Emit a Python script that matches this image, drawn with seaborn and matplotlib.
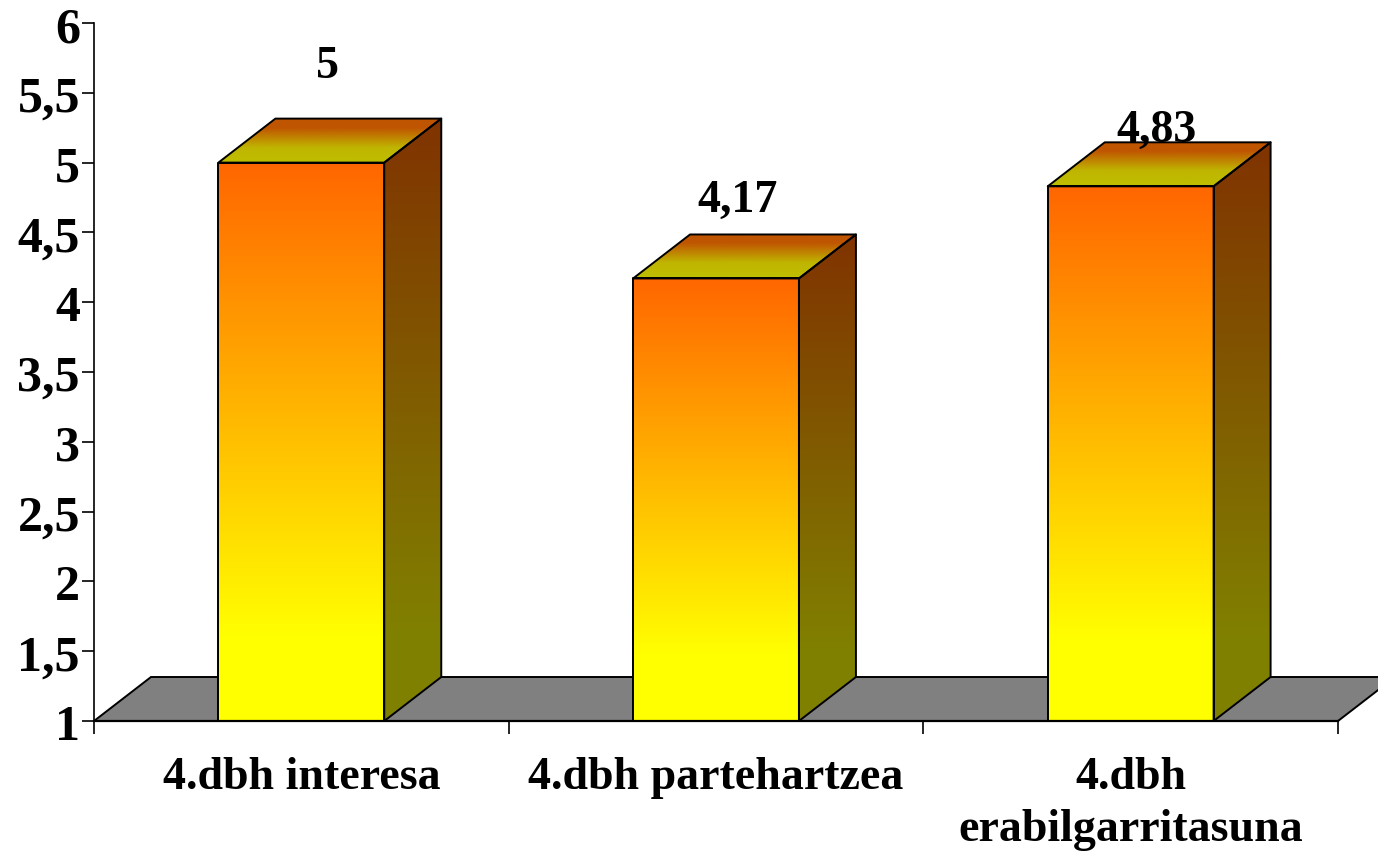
import numpy as np
import pandas as pd
import matplotlib
matplotlib.use("Agg")
import matplotlib.pyplot as plt
from matplotlib.colors import LinearSegmentedColormap
from matplotlib.patches import Polygon
from matplotlib.transforms import ScaledTranslation
import seaborn as sns

categories = ["4.dbh interesa", "4.dbh partehartzea", "4.dbh\nerabilgarritasuna"]
values = [5, 4.17, 4.83]
value_labels = ["5", "4,17", "4,83"]
yticks = [1, 1.5, 2, 2.5, 3, 3.5, 4, 4.5, 5, 5.5, 6]
ytick_labels = ["1", "1,5", "2", "2,5", "3", "3,5", "4", "4,5", "5", "5,5", "6"]

sns.set_theme(style="white")
plt.rcParams["font.family"] = ["Liberation Serif", "DejaVu Serif"]

W, H = 1378, 856
fig = plt.figure(figsize=(W / 100, H / 100), dpi=100, facecolor="white")
L, R, T, B = 94, 1338, 23, 721
ax = fig.add_axes([L / W, 1 - B / H, (R - L) / W, (B - T) / H])

df = pd.DataFrame({"cat": categories, "val": values})
sns.barplot(data=df, x="cat", y="val", width=0.4, color="#FF6600", ax=ax, zorder=3,
            edgecolor="black", linewidth=1.4, saturation=1)
ax.set_xlim(-0.5, 2.5)
ax.set_ylim(1, 6)

# depth of the pseudo-3D extrusion, expressed in data units
px_x = 3 / (R - L)
px_y = 5 / (B - T)
dx, dy = 57 * px_x, 44 * px_y
EDGE = 1.4


def gradient(poly, stops, z):
    xs, ys = zip(*poly)
    cmap = LinearSegmentedColormap.from_list("g", stops)
    im = ax.imshow(np.linspace(0, 1, 256).reshape(-1, 1), cmap=cmap, aspect="auto", origin="upper",
                   extent=(min(xs), max(xs), min(ys), max(ys)), zorder=z, clip_on=True)
    p = Polygon(poly, closed=True, transform=ax.transData, facecolor="none",
                edgecolor="black", linewidth=EDGE, joinstyle="round", zorder=z + 0.1, clip_on=False)
    ax.add_patch(p)
    im.set_clip_path(p)
    im.set_clip_on(True)


# floor
floor = [(-0.5, 1), (-0.5 + dx, 1 + dy), (2.5 + dx, 1 + dy), (2.5, 1)]
ax.add_patch(Polygon(floor, closed=True, facecolor="#808080", edgecolor="black",
                     linewidth=EDGE, zorder=1, clip_on=False))

front_stops = [(0, "#FF6600"), (0.85, "#FFFF00"), (1, "#FFFF00")]
side_stops = [(0, "#803300"), (0.85, "#808000"), (1, "#808000")]
top_stops = [(0, "#BF5500"), (0.2, "#BF5500"), (0.65, "#BFB500"), (1, "#BFBF00")]

# label placement relative to each bar's top-centre, in pixels
label_dx = [26, 22, 26]
label_dy = [85, 67, 44]

for bar, lab, ox, oy in zip(ax.patches[:3], value_labels, label_dx, label_dy):
    x0, x1 = bar.get_x(), bar.get_x() + bar.get_width()
    y1 = bar.get_height()
    front = [(x0, 1), (x1, 1), (x1, y1), (x0, y1)]
    side = [(x1, 1), (x1 + dx, 1 + dy), (x1 + dx, y1 + dy), (x1, y1)]
    top = [(x0, y1), (x1, y1), (x1 + dx, y1 + dy), (x0 + dx, y1 + dy)]
    bar.set_facecolor("none")
    bar.set_edgecolor("none")
    gradient(front, front_stops, 3)
    gradient(side, side_stops, 3)
    gradient(top, top_stops, 3)
    ax.annotate(lab, xy=((x0 + x1) / 2, y1), xycoords="data",
                xytext=(ox * 0.72, oy * 0.72), textcoords="offset points",
                ha="center", va="baseline", fontsize=33, fontweight="bold", color="black",
                zorder=6, annotation_clip=False)

ax.set_xlim(-0.5, 2.5)
ax.set_ylim(1, 6)
sns.despine(ax=ax, top=True, right=True)
ax.spines["left"].set_color("black")
ax.spines["left"].set_linewidth(1.2)
ax.spines["left"].set_zorder(2)
ax.spines["bottom"].set_color("black")
ax.spines["bottom"].set_linewidth(1.6)
ax.spines["bottom"].set_zorder(5)
ax.set_xlabel("")
ax.set_ylabel("")
ax.set_yticks(yticks)
ax.set_yticklabels(ytick_labels, fontsize=36, fontweight="bold", color="black")
ax.set_xticks([-0.5, 0.5, 1.5, 2.5], minor=False)
ax.set_xticklabels([])
ax.tick_params(axis="y", length=8.6, width=1.2, color="black", direction="out", pad=1.5, left=True)
ax.tick_params(axis="x", length=9, width=1.2, color="black", direction="out", bottom=True)
shift = ScaledTranslation(0, -1.5 / 100, fig.dpi_scale_trans)
for lbl in ax.get_yticklabels():
    lbl.set_transform(lbl.get_transform() + shift)
for i, c in enumerate(categories):
    ax.annotate(c, xy=(i, 1), xycoords="data", xytext=(0, -26), textcoords="offset points",
                ha="center", va="top", fontsize=33, fontweight="bold", color="black",
                linespacing=1.3, annotation_clip=False)

fig.savefig("out.png", dpi=100, facecolor="white")
